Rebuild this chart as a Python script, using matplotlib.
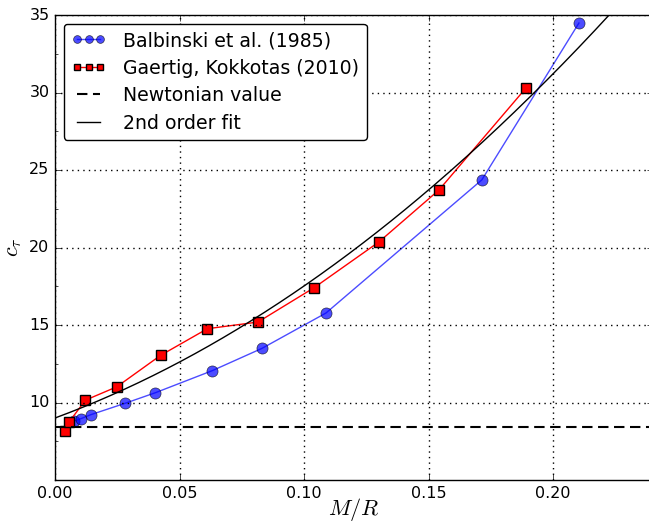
import numpy as np
import matplotlib
matplotlib.use("Agg")
import matplotlib.pyplot as plt
from matplotlib.ticker import FixedLocator

plt.style.use("classic")

# Balbinski et al. (1985)
balb_x = [0.0076, 0.0103, 0.0143, 0.0280, 0.0403, 0.0631, 0.0831, 0.1088, 0.1714, 0.2104]
balb_y = [8.79, 8.95, 9.21, 9.94, 10.63, 12.05, 13.49, 15.77, 24.36, 34.48]

# Gaertig, Kokkotas (2010)
gk_x = [0.0040, 0.0057, 0.0122, 0.0248, 0.0424, 0.0612, 0.0815, 0.1041, 0.1301, 0.1542, 0.1892]
gk_y = [8.15, 8.75, 10.15, 11.01, 13.04, 14.76, 15.19, 17.41, 20.36, 23.71, 30.30]

newtonian = 8.45
fit_coeffs = [258.5, 59.3, 9.0]  # c2, c1, c0 of 2nd order fit

x_ticks = [0.0, 0.05, 0.10, 0.15, 0.20]
x_ticklabels = ["0.00", "0.05", "0.10", "0.15", "0.20"]
y_ticks = [10, 15, 20, 25, 30, 35]
y_minor = [7.5, 12.5, 17.5, 22.5, 27.5, 32.5]

fig = plt.figure(figsize=(6.49, 5.23), dpi=100)
ax = fig.add_axes([55/649, 43/523, 597.6/649, 465/523])

ax.plot(balb_x, balb_y, "o-", color="blue", alpha=0.7, ms=8, mec="black",
        lw=1, label="Balbinski et al. (1985)")
ax.plot(gk_x, gk_y, "s-", color="red", mfc="red", mec="black", ms=7, mew=1,
        lw=1, label="Gaertig, Kokkotas (2010)")
ax.axhline(newtonian, color="black", lw=1.5, dashes=(7.5, 4), label="Newtonian value")
xf = np.linspace(0, 0.24, 300)
ax.plot(xf, np.polyval(fit_coeffs, xf), "k-", lw=1, label="2nd order fit")

ax.set_xlim(0, 0.24)
ax.set_ylim(5, 35)
ax.xaxis.set_major_locator(FixedLocator(x_ticks))
ax.set_xticklabels(x_ticklabels)
ax.yaxis.set_major_locator(FixedLocator(y_ticks))
ax.yaxis.set_minor_locator(FixedLocator(y_minor))
ax.tick_params(labelsize=11.5)
ax.grid(True, color="black", linestyle=":", lw=1)

ax.set_xlabel(r"$M/R$", fontsize=16, labelpad=-3)
ax.set_ylabel(r"$c_\tau$", fontsize=16, labelpad=4)

leg = ax.legend(loc="upper left", numpoints=3, fontsize=13.6, fancybox=True,
                markerscale=0.7, handlelength=1.85, handletextpad=0.9,
                labelspacing=0.45, borderaxespad=0.45, borderpad=0.4)

fig.savefig("out.png", dpi=100)
